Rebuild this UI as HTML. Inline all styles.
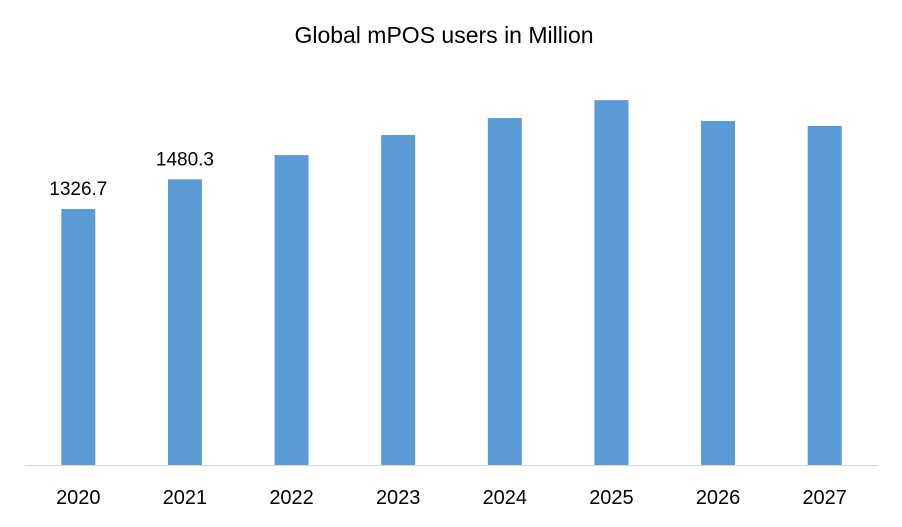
<!DOCTYPE html>
<html>
<head>
<meta charset="utf-8">
<style>
  html,body{margin:0;padding:0;background:#fff;}
  svg{display:block;font-family:"Liberation Sans",sans-serif;}
</style>
</head>
<body>
<svg id="chart" width="902" height="527" viewBox="0 0 902 527">
  <rect x="0" y="0" width="902" height="527" fill="#fff"/>
  <text x="444" y="43" text-anchor="middle" font-size="23" fill="#000">Global mPOS users in Million</text>
  <g id="bars"></g>
  <line x1="25" y1="465.5" x2="878" y2="465.5" stroke="#d9d9d9" stroke-width="1"/>
  <g id="xlabels"></g>
  <g id="vlabels"></g>
</svg>
<script>
const categories = ["2020","2021","2022","2023","2024","2025","2026","2027"];
const values = [1326.7, 1480.3, 1606, 1710, 1798, 1891, 1783, 1757];
const valueLabels = ["1326.7","1480.3","","","","","",""];

const plotLeft = 25, plotRight = 878, baseY = 465, pxPerUnit = 256/1326.7;
const band = (plotRight - plotLeft) / categories.length;
const barW = 34;
function xCenter(i){ return plotLeft + band*(i+0.5); }
function yScale(v){ return baseY - v*pxPerUnit; }

const NS = "http://www.w3.org/2000/svg";
const gb = document.getElementById("bars");
const gx = document.getElementById("xlabels");
const gv = document.getElementById("vlabels");
categories.forEach((c,i)=>{
  const r = document.createElementNS(NS,"rect");
  r.setAttribute("x", xCenter(i)-barW/2);
  r.setAttribute("y", yScale(values[i]));
  r.setAttribute("width", barW);
  r.setAttribute("height", baseY - yScale(values[i]));
  r.setAttribute("fill", "#5b9bd5");
  
  
  gb.appendChild(r);

  const t = document.createElementNS(NS,"text");
  t.setAttribute("x", xCenter(i));
  t.setAttribute("y", 504);
  t.setAttribute("text-anchor","middle");
  t.setAttribute("font-size","20");
  t.textContent = c;
  
  
  gx.appendChild(t);

  if (valueLabels[i]) {
    const v = document.createElementNS(NS,"text");
    v.setAttribute("x", xCenter(i));
    v.setAttribute("y", yScale(values[i]) - 14);
    v.setAttribute("text-anchor","middle");
    v.setAttribute("font-size","19");
    v.textContent = valueLabels[i];
    
    
    gv.appendChild(v);
  }
});
</script>
</body>
</html>
